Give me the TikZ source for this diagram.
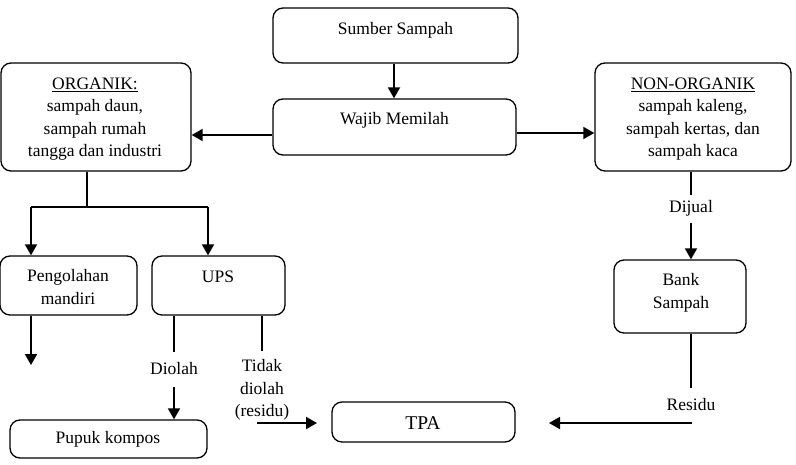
\documentclass[tikz,border=0pt]{standalone}
\usepackage{fontspec}
\setmainfont{Liberation Serif}
\usetikzlibrary{arrows.meta}
\tikzset{
  box/.style={draw=black, line width=1.3pt, rounded corners=10pt, inner sep=0pt},
  txt/.style={align=center, inner sep=0pt, font=\fontsize{17.5}{22.5}\selectfont},
  conn/.style={line width=1.8pt},
  arr/.style={line width=1.8pt, -{Triangle[length=11pt,width=12pt]}},
  thin/.style={line width=1.3pt}
}
\begin{document}
\begin{tikzpicture}[x=1pt,y=-1pt]
\useasboundingbox (0,0) rectangle (796,464);
% boxes
\node[box, minimum width=245pt, minimum height=55pt] (sumber) at (395.5,35.5) {};
\node[txt] (tsumber) at (395.5,30) {Sumber Sampah};
\node[box, minimum width=243pt, minimum height=56pt] (wajib) at (394.5,127) {};
\node[txt] (twajib) at (394.5,120) {Wajib Memilah};
\node[box, minimum width=190pt, minimum height=108pt] (org) at (96,117) {};
\node[txt] (torg) at (95,119) {\underline{ORGANIK:}\\sampah daun,\\sampah rumah\\tangga dan industri};
\node[box, minimum width=196pt, minimum height=108pt] (non) at (693,117) {};
\node[txt] (tnon) at (693,119) {\underline{NON-ORGANIK}\\sampah kaleng,\\sampah kertas, dan\\sampah kaca};
\node[box, minimum width=137pt, minimum height=59pt] (peng) at (68.5,285.5) {};
\node[txt] (tpeng) at (68,287) {Pengolahan\\mandiri};
\node[box, minimum width=133pt, minimum height=59pt] (ups) at (218.5,285.5) {};
\node[txt] (tups) at (218,277) {UPS};
\node[box, minimum width=197pt, minimum height=38pt] (pupuk) at (108.5,439) {};
\node[txt] (tpupuk) at (108,439) {Pupuk kompos};
\node[box, minimum width=183pt, minimum height=40pt] (tpa) at (423.5,422) {};
\node[txt, font=\fontsize{19.5}{23}\selectfont] (ttpa) at (423,423) {TPA};
\node[box, minimum width=132pt, minimum height=73pt] (bank) at (680,296.5) {};
\node[txt] (tbank) at (681,293) {Bank\\Sampah};
% labels
\node[txt] (dijual) at (691,208) {Dijual};
\node[txt] (diolah) at (174,369) {Diolah};
\node[txt] (tidak) at (262,390) {Tidak\\diolah\\(residu)};
\node[txt] (residu) at (691,405) {Residu};
% coordinates
\coordinate (oj) at (87,207);
\coordinate (ojl) at (31,207);
\coordinate (ojr) at (208,207);
\coordinate (pend) at (31,365);
\coordinate (u1) at (174,352);
\coordinate (u2) at (262,351);
\coordinate (d1) at (174,387);
\coordinate (t1) at (257,423);
\coordinate (t2) at (317,423);
\coordinate (r1) at (691,388);
\coordinate (r2) at (692,423);
\coordinate (r3) at (549,423);
\coordinate (j1) at (691,195);
\coordinate (j2) at (691,223);
% connectors
\draw[arr] (sumber.south -| 394,0) -- (wajib.north -| 394,0);
\draw[arr] (wajib.west |- 0,135) -- (org.east |- 0,135);
\draw[arr] (wajib.east |- 0,133) -- (non.west |- 0,133);
\draw[conn] (org.south -| oj) -- (oj);
\draw[conn] (ojl) -- (ojr);
\draw[arr] (ojl) -- (peng.north -| ojl);
\draw[arr] (ojr) -- (ups.north -| ojr);
\draw[arr] (peng.south -| pend) -- (pend);
\draw[thin] (ups.south -| u1) -- (u1);
\draw[thin] (ups.south -| u2) -- (u2);
\draw[arr] (d1) -- (pupuk.north -| d1);
\draw[arr] (t1) -- (t2);
\draw[thin] (non.south -| j1) -- (j1);
\draw[arr] (j2) -- (bank.north -| j2);
\draw[thin] (bank.south -| r1) -- (r1);
\draw[arr] (r2) -- (r3);
\end{tikzpicture}
\end{document}
